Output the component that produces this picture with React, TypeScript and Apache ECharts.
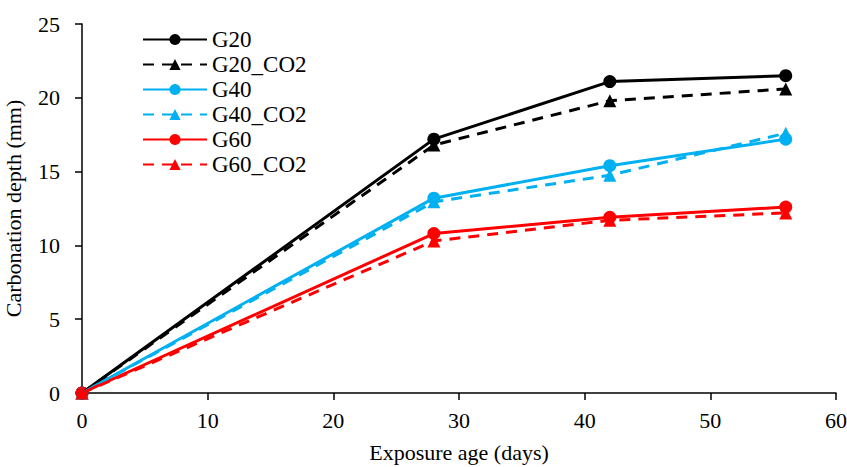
import React, { useEffect, useRef } from "react";
import * as echarts from "echarts";

const days = [0, 28, 42, 56];
const g20 = [0, 17.2, 21.1, 21.5];
const g20co2 = [0, 16.8, 19.8, 20.6];
const g40 = [0, 13.2, 15.4, 17.2];
const g40co2 = [0, 12.95, 14.75, 17.6];
const g60 = [0, 10.8, 11.9, 12.6];
const g60co2 = [0, 10.3, 11.7, 12.2];

const seriesNames = ["G20", "G20_CO2", "G40", "G40_CO2", "G60", "G60_CO2"];
const seriesData = [g20, g20co2, g40, g40co2, g60, g60co2];
const seriesColors = ["#000000", "#000000", "#00B0F0", "#00B0F0", "#FF0000", "#FF0000"];

const FONT = "Liberation Serif";

export default function App() {
  const ref = useRef<HTMLDivElement>(null);
  useEffect(() => {
    if (!ref.current) return;
    const chart = echarts.init(ref.current, null, { renderer: "svg" });
    const series = seriesNames.map((name, i) => {
      const dashed = i % 2 === 1;
      return {
        name,
        type: "line",
        data: days.map((d, j) => [d, seriesData[i][j]]),
        symbol: dashed ? "triangle" : "circle",
        symbolSize: 13,
        showAllSymbol: true,
        lineStyle: { color: seriesColors[i], width: 3, type: dashed ? [11, 8] : "solid" },
        itemStyle: { color: seriesColors[i] },
        z: dashed ? 3 : 2,
      };
    });
    chart.setOption({
      animation: false,
      textStyle: { fontFamily: FONT },
      grid: { left: 82, right: 11, top: 24, bottom: 74, containLabel: false, outerBoundsMode: "none" },
      legend: {
        orient: "vertical",
        left: 137,
        top: 23,
        itemWidth: 64,
        itemHeight: 14,
        itemGap: 2,
        textStyle: { fontFamily: FONT, fontSize: 23, color: "#000" },
        data: seriesNames,
      },
      xAxis: {
        type: "value",
        min: 0,
        max: 60,
        interval: 10,
        name: "Exposure age (days)",
        nameLocation: "middle",
        nameGap: 48,
        nameTextStyle: { fontFamily: FONT, fontSize: 22, color: "#000" },
        axisLine: { show: true, lineStyle: { color: "#000", width: 1.5 } },
        axisTick: { show: true, length: 7, lineStyle: { color: "#000", width: 1.5 } },
        axisLabel: { fontFamily: FONT, fontSize: 22, color: "#000", margin: 16 },
        splitLine: { show: false },
      },
      yAxis: {
        type: "value",
        min: 0,
        max: 25,
        interval: 5,
        name: "Carbonation depth (mm)",
        nameLocation: "middle",
        nameGap: 58,
        nameTextStyle: { fontFamily: FONT, fontSize: 22, color: "#000" },
        axisLine: { show: true, lineStyle: { color: "#000", width: 1.5 } },
        axisTick: { show: true, length: 7, lineStyle: { color: "#000", width: 1.5 } },
        axisLabel: { fontFamily: FONT, fontSize: 22, color: "#000", margin: 22 },
        splitLine: { show: false },
      },
      series,
    });
    return () => chart.dispose();
  }, []);
  return <div ref={ref} style={{ width: 847, height: 467, position: "absolute", left: 0, top: 0 }} />;
}
